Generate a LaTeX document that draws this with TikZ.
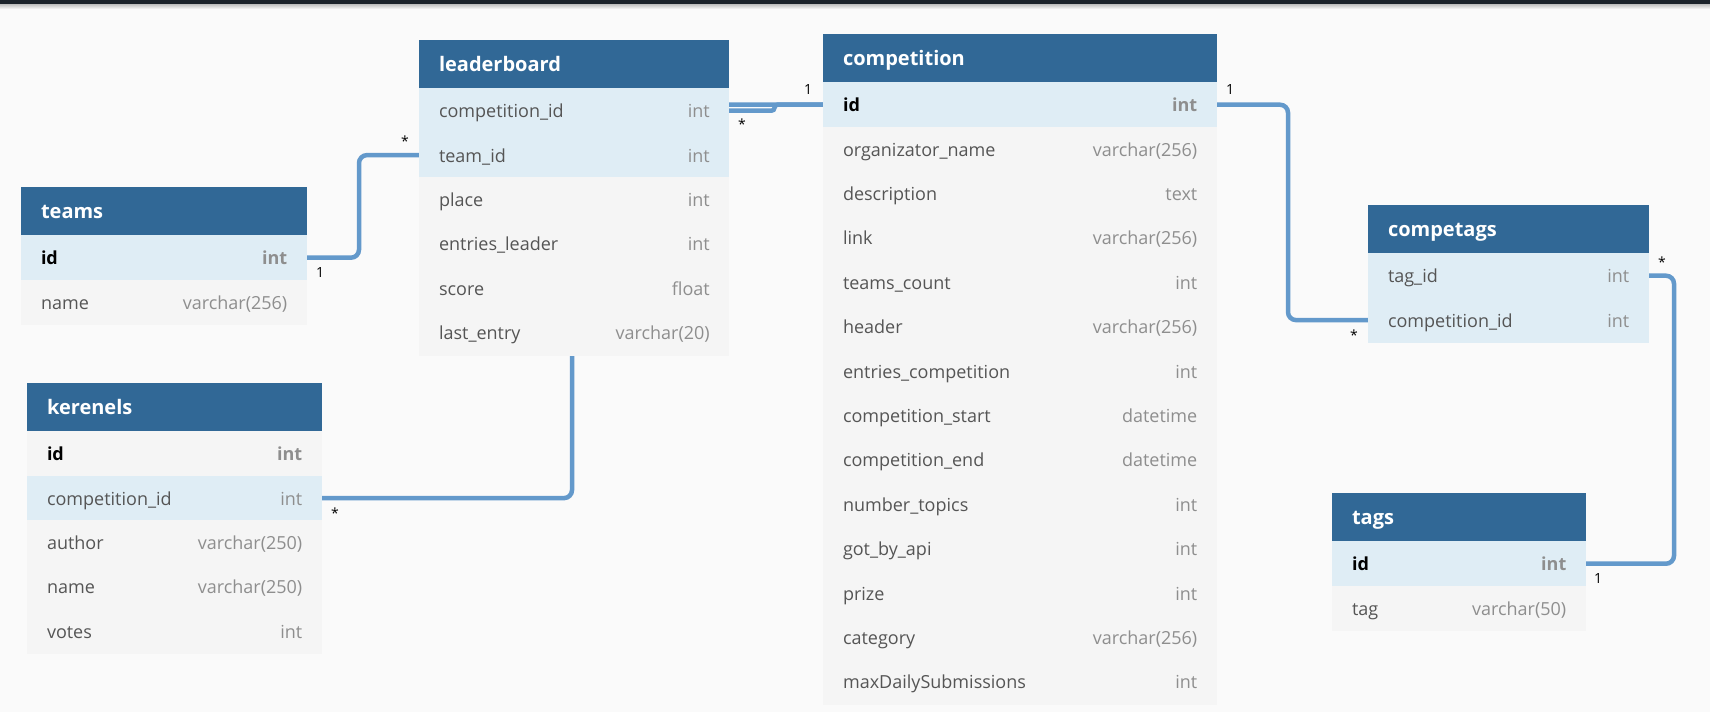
\documentclass[tikz,border=0pt]{standalone}
\usepackage{fontspec}
\setmainfont{Open Sans}
\usetikzlibrary{positioning,backgrounds}
\definecolor{canvas}{HTML}{FAFAFA}
\definecolor{topbar}{HTML}{1C232B}
\definecolor{headblue}{HTML}{316896}
\definecolor{keyrow}{HTML}{DFEDF5}
\definecolor{plainrow}{HTML}{F5F5F5}
\definecolor{fieldtxt}{HTML}{555555}
\definecolor{typetxt}{HTML}{8E8E8E}
\definecolor{linkblue}{HTML}{6399CB}

\tikzset{
  head/.style={anchor=north west, fill=headblue, draw=headblue, line width=0.8pt, outer sep=0pt,
    text=white, inner xsep=20pt, inner ysep=0pt,
    minimum height=48.5pt, text width=#1, align=left, text height=15.5pt, text depth=2pt,
    font=\fontsize{20}{23}\selectfont\bfseries},
  field/.style={anchor=north west, fill=plainrow, draw=plainrow, line width=0.8pt, outer sep=0pt,
    text=fieldtxt, inner xsep=20pt, inner ysep=0pt,
    minimum height=44.4pt, text width=#1, align=left, text height=16pt, text depth=2pt,
    font=\fontsize{18}{21}\selectfont},
  keyfield/.style={field=#1, fill=keyrow, draw=keyrow},
  pk/.style={text=black, font=\fontsize{18}{21}\selectfont\bfseries},
  ftype/.style={label={[anchor=east, xshift=-18.5pt, inner sep=0pt, text=typetxt,
    text height=16pt, text depth=2pt, font=\fontsize{18}{21}\selectfont]east:#1}},
  pktype/.style={label={[anchor=east, xshift=-18.5pt, inner sep=0pt, text=typetxt,
    text height=16pt, text depth=2pt, font=\fontsize{18}{21}\selectfont\bfseries]east:#1}},
  relation/.style={draw=linkblue, line width=4.5pt, rounded corners=8pt},
  card/.style={inner sep=0pt, font=\fontsize{14}{16}\selectfont, text=black},
}

\begin{document}
\begin{tikzpicture}[x=1pt, y=-1pt]
  \useasboundingbox (0,0) rectangle (1710,712);
  \shade[top color=black!30, bottom color=canvas] (0,3) rectangle (1710,9);
  \fill[topbar] (0,0) rectangle (1710,3.5);

  % teams
  \node[head=245pt] (teams) at (21,187) {teams};
  \node[keyfield=245pt, pk, pktype=int, below=0pt of teams] (teams-id) {id};
  \node[field=245pt, ftype=varchar(256), below=0pt of teams-id] (teams-name) {name};

  % leaderboard
  \node[head=269.5pt] (lb) at (419,40) {leaderboard};
  \node[keyfield=269.5pt, ftype=int, below=0pt of lb] (lb-comp) {competition\_id};
  \node[keyfield=269.5pt, ftype=int, below=0pt of lb-comp] (lb-team) {team\_id};
  \node[field=269.5pt, ftype=int, below=0pt of lb-team] (lb-place) {place};
  \node[field=269.5pt, ftype=int, below=0pt of lb-place] (lb-entries) {entries\_leader};
  \node[field=269.5pt, ftype=float, below=0pt of lb-entries] (lb-score) {score};
  \node[field=269.5pt, ftype=varchar(20), below=0pt of lb-score] (lb-last) {last\_entry};

  % kerenels
  \node[head=254pt] (kern) at (27,383) {kerenels};
  \node[field=254pt, pk, pktype=int, below=0pt of kern] (kern-id) {id};
  \node[keyfield=254pt, ftype=int, below=0pt of kern-id] (kern-comp) {competition\_id};
  \node[field=254pt, ftype=varchar(250), below=0pt of kern-comp] (kern-author) {author};
  \node[field=254pt, ftype=varchar(250), below=0pt of kern-author] (kern-name) {name};
  \node[field=254pt, ftype=int, below=0pt of kern-name] (kern-votes) {votes};

  % competition
  \node[head=353pt] (comp) at (823,34) {competition};
  \node[keyfield=353pt, pk, pktype=int, below=0pt of comp] (comp-id) {id};
  \node[field=353pt, ftype=varchar(256), below=0pt of comp-id] (comp-org) {organizator\_name};
  \node[field=353pt, ftype=text, below=0pt of comp-org] (comp-desc) {description};
  \node[field=353pt, ftype=varchar(256), below=0pt of comp-desc] (comp-link) {link};
  \node[field=353pt, ftype=int, below=0pt of comp-link] (comp-teams) {teams\_count};
  \node[field=353pt, ftype=varchar(256), below=0pt of comp-teams] (comp-header) {header};
  \node[field=353pt, ftype=int, below=0pt of comp-header] (comp-entries) {entries\_competition};
  \node[field=353pt, ftype=datetime, below=0pt of comp-entries] (comp-start) {competition\_start};
  \node[field=353pt, ftype=datetime, below=0pt of comp-start] (comp-end) {competition\_end};
  \node[field=353pt, ftype=int, below=0pt of comp-end] (comp-topics) {number\_topics};
  \node[field=353pt, ftype=int, below=0pt of comp-topics] (comp-api) {got\_by\_api};
  \node[field=353pt, ftype=int, below=0pt of comp-api] (comp-prize) {prize};
  \node[field=353pt, ftype=varchar(256), below=0pt of comp-prize] (comp-cat) {category};
  \node[field=353pt, ftype=int, below=0pt of comp-cat] (comp-max) {maxDailySubmissions};

  % competags
  \node[head=240pt] (ct) at (1368,205) {competags};
  \node[keyfield=240pt, ftype=int, below=0pt of ct] (ct-tag) {tag\_id};
  \node[keyfield=240pt, ftype=int, below=0pt of ct-tag] (ct-comp) {competition\_id};

  % tags
  \node[head=213pt] (tags) at (1332,493) {tags};
  \node[keyfield=213pt, pk, pktype=int, below=0pt of tags] (tags-id) {id};
  \node[field=213pt, ftype=varchar(50), below=0pt of tags-id] (tags-tag) {tag};

  % relations, under the tables
  \begin{scope}[on background layer]
    \fill[canvas] (0,3) rectangle (1710,712);
    \draw[relation] (teams-id.east) -- ++(53,0) |- (lb-team.west);
    \draw[relation] (kern-comp.east) -- ++(251,0) |- (comp-id.west);
    \draw[relation, rounded corners=3pt] (lb-comp.east) -- ++(46,0) |- (comp-id.west);
    \draw[relation] (comp-id.east) -- ++(72,0) |- (ct-comp.west);
    \draw[relation] (ct-tag.east) -- ++(26,0) |- (tags-id.east);
  \end{scope}

  % cardinalities
  \node[card] (c-teams) at (320,272) {1};
  \node[card] (c-lbteam) at (405,141) {*};
  \node[card] (c-lbcomp) at (742,124) {*};
  \node[card] (c-compl) at (808,90) {1};
  \node[card] (c-kern) at (335,513) {*};
  \node[card] (c-compr) at (1230,90) {1};
  \node[card] (c-ctcomp) at (1354,335) {*};
  \node[card] (c-cttag) at (1662,262) {*};
  \node[card] (c-tags) at (1598,578) {1};
\end{tikzpicture}
\end{document}
